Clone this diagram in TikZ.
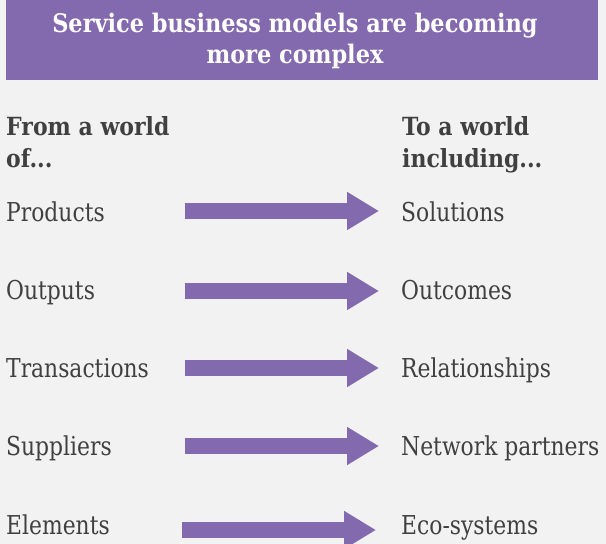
\documentclass[tikz,border=0pt]{standalone}
\usepackage{fontspec}
\setmainfont{DejaVu Serif}[FakeStretch=0.84,BoldFeatures={FakeStretch=0.88}]
\usepackage{tikz}
\usetikzlibrary{arrows.meta}

\definecolor{svpurple}{HTML}{8369AD}
\definecolor{svgray}{HTML}{404040}
\definecolor{svback}{HTML}{F2F2F2}

\tikzset{
  rowtext/.style={anchor=base west,inner sep=0pt,text=svgray,font=\fontsize{26}{32}\selectfont},
  headtext/.style={anchor=north west,inner sep=0pt,align=left,text=svgray,font=\bfseries\fontsize{25}{32}\selectfont},
  bigarrow/.style={draw=svpurple,line width=16pt,-{Triangle[length=32pt,width=36pt]}}
}

\begin{document}
\begin{tikzpicture}[x=1pt,y=1pt,yscale=-1]
%background, set diagram size 606 x 544
\fill[svback] (0,0) rectangle (606,544);
\useasboundingbox (0,0) rectangle (606,544);

%Title Box
\fill[svpurple] (6,0) rectangle (598,80);
% Text Node
\node [inner sep=0pt,align=center,text=white,font=\bfseries\fontsize{25.5}{31}\selectfont] (title) at (295,41) {Service business models are becoming\\more complex};

% Text Node
\node [headtext] (fromhead) at (6,116) {From a world\\of...};
% Text Node
\node [headtext] (tohead) at (402,116) {To a world\\including...};

% Text Node
\node [rowtext] (from1) at (6,221) {Products};
% Text Node
\node [rowtext] (to1) at (401,221) {Solutions};
% Text Node
\node [rowtext] (from2) at (6,299) {Outputs};
% Text Node
\node [rowtext] (to2) at (401,299) {Outcomes};
% Text Node
\node [rowtext] (from3) at (6,377) {Transactions};
% Text Node
\node [rowtext] (to3) at (401,377) {Relationships};
% Text Node
\node [rowtext] (from4) at (6,455) {Suppliers};
% Text Node
\node [rowtext] (to4) at (401,455) {Network partners};
% Text Node
\node [rowtext] (from5) at (6,534) {Elements};
% Text Node
\node [rowtext] (to5) at (401,534) {Eco-systems};

%Arrow ends
\coordinate (s1) at (185,211);
\coordinate (e1) at (379,211);
\coordinate (s2) at (185,291);
\coordinate (e2) at (379,291);
\coordinate (s3) at (185,368);
\coordinate (e3) at (379,368);
\coordinate (s4) at (185,446);
\coordinate (e4) at (379,446);
\coordinate (s5) at (182,530);
\coordinate (e5) at (376,530);

%Right Arrows
\draw [bigarrow] (s1) -- (e1) ;
\draw [bigarrow] (s2) -- (e2) ;
\draw [bigarrow] (s3) -- (e3) ;
\draw [bigarrow] (s4) -- (e4) ;
\draw [bigarrow] (s5) -- (e5) ;

\end{tikzpicture}
\end{document}
